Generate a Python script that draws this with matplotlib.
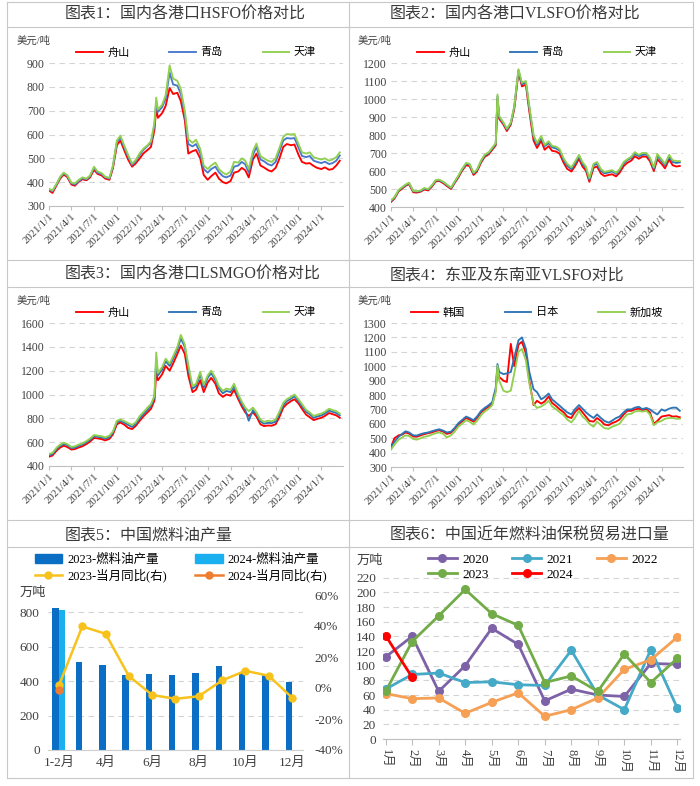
import matplotlib
matplotlib.use('Agg')
import matplotlib.pyplot as plt
import matplotlib.dates as mdates
from matplotlib.lines import Line2D
from matplotlib.patches import Patch
from matplotlib.ticker import FuncFormatter, MultipleLocator
import numpy as np
import pandas as pd

FAM = ['Liberation Serif', 'Noto Sans CJK SC']
plt.rcParams['font.family'] = FAM
plt.rcParams['axes.unicode_minus'] = False

# ---------------- data ----------------
dates = pd.date_range('2021-01-01', '2024-03-15', freq='SMS')
dates = dates.append(pd.DatetimeIndex(['2022-03-08'])).sort_values()

port_labels = ['舟山', '青岛', '天津']
asia_labels = ['韩国', '日本', '新加坡']

hsfo_zhoushan = [365, 355, 388, 415, 432, 422, 390, 385, 402, 412, 408, 420, 452, 435, 428, 415, 410, 458, 555, 575, 530, 495, 465, 478,
                 500, 520, 535, 548, 620, 710, 670, 690, 720, 795, 770, 775, 740, 660, 520, 530, 535, 500, 430, 410, 425, 440, 415, 400, 395,
                 405, 440, 445, 460, 450, 420, 495, 520, 470, 462, 450, 445, 460, 495, 548, 560, 555, 558, 515, 485, 478, 480, 468, 460,
                 455, 462, 452, 455, 470, 490]
hsfo_qingdao = [370, 362, 392, 420, 437, 427, 395, 390, 405, 416, 412, 425, 460, 440, 434, 420, 415, 465, 568, 588, 542, 508, 472, 487,
                515, 535, 552, 565, 640, 740, 695, 715, 750, 860, 810, 805, 770, 685, 560, 550, 560, 522, 455, 440, 455, 465, 442, 425, 420,
                428, 465, 470, 485, 475, 440, 515, 548, 495, 488, 475, 470, 485, 525, 575, 585, 583, 585, 545, 510, 505, 510, 490, 485,
                480, 486, 476, 480, 490, 512]
hsfo_tianjin = [372, 365, 395, 423, 440, 430, 398, 395, 410, 420, 415, 428, 465, 445, 438, 423, 418, 470, 575, 595, 550, 515, 478, 492,
                522, 540, 555, 572, 650, 755, 705, 725, 765, 890, 835, 825, 790, 700, 580, 565, 578, 540, 470, 455, 470, 482, 455, 440, 432,
                445, 485, 482, 500, 490, 455, 530, 562, 510, 500, 490, 485, 500, 540, 590, 602, 600, 602, 560, 525, 520, 525, 505, 500,
                495, 500, 490, 495, 505, 525]

vlsfo_zhoushan = [428, 447, 487, 502, 518, 527, 482, 480, 485, 497, 492, 512, 542, 545, 532, 517, 500, 532, 565, 600, 632, 628, 578, 597,
                  648, 678, 693, 718, 743, 1000, 890, 858, 822, 858, 945, 1150, 1070, 1080, 930, 770, 728, 768, 718, 738, 712, 708, 695, 645, 612,
                  597, 625, 668, 625, 602, 540, 618, 625, 585, 572, 578, 582, 570, 590, 628, 645, 658, 682, 668, 680, 680, 655, 600, 665,
                  640, 615, 665, 632, 625, 628]
vlsfo_qingdao = [434, 452, 492, 507, 522, 532, 488, 485, 489, 502, 497, 517, 547, 549, 537, 522, 505, 537, 571, 606, 640, 636, 586, 604,
                 655, 685, 700, 725, 750, 1015, 898, 865, 830, 865, 955, 1160, 1082, 1092, 950, 790, 745, 785, 738, 755, 732, 725, 712, 660, 630,
                 610, 640, 680, 640, 615, 552, 632, 640, 600, 587, 592, 598, 584, 604, 643, 660, 673, 695, 682, 690, 692, 668, 612, 685,
                 655, 632, 680, 650, 645, 648]
vlsfo_tianjin = [437, 455, 495, 510, 525, 535, 490, 488, 492, 505, 500, 520, 550, 552, 540, 525, 508, 540, 575, 610, 645, 640, 590, 608,
                 660, 690, 705, 730, 755, 1025, 905, 870, 835, 870, 960, 1165, 1090, 1100, 960, 800, 755, 795, 745, 765, 740, 735, 720, 670, 640,
                 620, 650, 690, 650, 625, 560, 640, 650, 610, 595, 600, 605, 590, 610, 650, 665, 680, 705, 690, 700, 700, 675, 620, 695,
                 665, 640, 690, 660, 655, 655]

lsmgo_zhoushan = [478, 488, 530, 555, 570, 560, 538, 542, 556, 565, 585, 605, 635, 632, 625, 615, 628, 665, 750, 765, 745, 720, 710, 735,
                  780, 815, 850, 880, 950, 1180, 1120, 1170, 1240, 1200, 1260, 1340, 1410, 1340, 1160, 1020, 1040, 1120, 1020, 1100, 1140, 1090, 1010, 980, 1000,
                  990, 1040, 960, 900, 850, 820, 850, 815, 750, 735, 740, 738, 750, 805, 890, 920, 945, 960, 925, 880, 830, 810, 785, 795,
                  805, 820, 845, 835, 825, 805]
lsmgo_qingdao = [490, 500, 545, 570, 585, 575, 550, 555, 570, 580, 600, 620, 650, 645, 640, 630, 643, 680, 768, 780, 762, 745, 728, 752,
                 800, 835, 872, 905, 975, 1300, 1160, 1210, 1280, 1240, 1300, 1380, 1470, 1400, 1220, 1050, 1070, 1170, 1060, 1140, 1180, 1120, 1050, 1010, 1030,
                 1020, 1070, 980, 920, 870, 780, 870, 835, 775, 755, 762, 760, 772, 832, 912, 945, 965, 985, 945, 902, 855, 835, 805, 815,
                 825, 840, 865, 855, 845, 825]
lsmgo_tianjin = [500, 510, 555, 580, 595, 585, 560, 565, 580, 590, 610, 630, 660, 655, 650, 640, 655, 690, 780, 790, 775, 760, 745, 765,
                 820, 850, 890, 920, 990, 1352, 1180, 1230, 1300, 1260, 1320, 1400, 1500, 1420, 1250, 1070, 1090, 1190, 1080, 1160, 1200, 1140, 1070, 1030, 1050,
                 1040, 1090, 1000, 940, 890, 860, 890, 850, 790, 770, 780, 775, 790, 850, 930, 960, 980, 1000, 960, 920, 870, 850, 820, 830,
                 840, 855, 880, 870, 860, 840]

asia_korea = [440, 500, 520, 525, 540, 532, 512, 510, 520, 528, 535, 540, 550, 555, 545, 530, 538, 562, 595, 615, 640, 630, 615, 640,
              680, 700, 720, 742, 835, 990, 925, 900, 890, 1155, 1000, 1150, 1170, 1090, 900, 730, 760, 740, 755, 790, 745, 722, 700, 680, 650,
              640, 680, 710, 680, 650, 620, 615, 640, 620, 595, 590, 605, 615, 630, 665, 690, 690, 700, 705, 695, 700, 680, 600, 620,
              650, 655, 660, 650, 652, 645]
asia_japan = [440, 475, 510, 530, 548, 540, 520, 518, 528, 535, 540, 548, 556, 562, 552, 540, 545, 570, 605, 625, 650, 640, 625, 650,
              690, 710, 730, 750, 850, 1015, 960, 945, 950, 960, 1060, 1180, 1200, 1120, 960, 840, 820, 770, 785, 810, 770, 745, 725, 700, 680,
              665, 700, 730, 705, 680, 660, 640, 665, 640, 620, 608, 622, 640, 650, 680, 700, 700, 712, 718, 702, 710, 700, 680, 665,
              700, 690, 705, 712, 712, 690]
asia_singapore = [420, 455, 490, 505, 520, 515, 495, 490, 500, 510, 515, 525, 535, 540, 530, 505, 520, 545, 580, 600, 625, 615, 595, 620,
                  660, 685, 705, 730, 820, 1005, 900, 830, 820, 830, 950, 1100, 1120, 1040, 880, 740, 710, 720, 735, 760, 720, 700, 680, 660, 630,
                  610, 640, 690, 650, 630, 600, 580, 615, 590, 570, 565, 580, 590, 600, 640, 665, 670, 685, 690, 685, 690, 665, 590, 610,
                  620, 635, 640, 640, 635, 635]

p5_cats = ['1-2月', '3月', '4月', '5月', '6月', '7月', '8月', '9月', '10月', '11月', '12月']
prod_2023 = [823, 513, 494, 433, 442, 437, 450, 485, 452, 433, 394]
prod_2024 = [813]
yoy_2023 = [1.7, 39.7, 35.0, 7.7, -4.5, -7.0, -5.3, 4.9, 11.1, 7.9, -6.2]
yoy_2024 = [-1.5]
p5_labels = ['2023-燃料油产量', '2024-燃料油产量', '2023-当月同比(右)', '2024-当月同比(右)']

p6_months = ['1月', '2月', '3月', '4月', '5月', '6月', '7月', '8月', '9月', '10月', '11月', '12月']
imp_2020 = [112, 140, 65, 100, 151, 129, 52, 68, 60, 58, 103, 102]
imp_2021 = [68, 88, 90, 77, 78, 74, 73, 121, 60, 40, 122, 42]
imp_2022 = [62, 55, 56, 35, 50, 63, 31, 40, 56, 95, 108, 139]
imp_2023 = [65, 133, 168, 204, 171, 155, 77, 86, 65, 116, 77, 110]
imp_2024 = [141, 84]
imp_labels = ['2020', '2021', '2022', '2023', '2024']

# ---------------- figure ----------------
W, H = 700, 786
fig = plt.figure(figsize=(W / 100, H / 100), dpi=100, facecolor='white')


def rect(x0, y0, x1, y1):
    return [x0 / W, 1 - y1 / H, (x1 - x0) / W, (y1 - y0) / H]


def fx(x):
    return x / W


def fy(y):
    return 1 - y / H


TXT = '#404040'
GRID = '#d4d4d4'
SPINE = '#bfbfbf'

# panel frames
for y in [2, 27, 260, 287, 520, 547, 778]:
    fig.add_artist(Line2D([fx(7), fx(693)], [fy(y), fy(y)], color='#c8c8c8', lw=0.8))
for x in [7, 349, 693]:
    fig.add_artist(Line2D([fx(x), fx(x)], [fy(2), fy(778)], color='#c8c8c8', lw=0.8))

titles = [
    (65, 15, '图表1：国内各港口HSFO价格对比'),
    (390, 15, '图表2：国内各港口VLSFO价格对比'),
    (65, 275, '图表3：国内各港口LSMGO价格对比'),
    (390, 276, '图表4：东亚及东南亚VLSFO对比'),
    (65, 535, '图表5：中国燃料油产量'),
    (390, 535, '图表6：中国近年燃料油保税贸易进口量'),
]
for x, y, t in titles:
    fig.text(fx(x), fy(y), t, fontsize=11.5, color='#3a3a3a', ha='left', va='center')


def date_fmt(v, p):
    d = mdates.num2date(v)
    return f"{d.year}/{d.month}/{d.day}"


def price_panel(r, series, colors, labels, ylim, ystep, unit_xy):
    ax = fig.add_axes(r)
    for s, c, l in zip(series, colors, labels):
        ax.plot(dates, s, color=c, lw=1.35, label=l)
    ax.set_ylim(*ylim)
    ax.set_xlim(pd.Timestamp('2021-01-01'), pd.Timestamp('2024-03-28'))
    ax.yaxis.set_major_locator(MultipleLocator(ystep))
    ax.grid(axis='y', color=GRID, lw=0.8, ls=(0, (5, 4)))
    ax.set_axisbelow(True)
    for sp in ['top', 'right', 'left']:
        ax.spines[sp].set_visible(False)
    ax.spines['bottom'].set_color(SPINE)
    ax.xaxis.set_major_locator(mdates.MonthLocator(bymonth=[1, 4, 7, 10]))
    ax.xaxis.set_major_formatter(FuncFormatter(date_fmt))
    ax.tick_params(axis='y', length=0, labelsize=8.5, labelcolor=TXT, pad=3)
    ax.tick_params(axis='x', length=3, color=SPINE, labelsize=7.8, labelcolor=TXT, pad=1)
    for lbl in ax.get_xticklabels():
        lbl.set_rotation(45)
        lbl.set_ha('right')
        lbl.set_rotation_mode('anchor')
    ax.legend(loc='lower center', bbox_to_anchor=(0.5, 1.0), ncol=3, frameon=False,
              fontsize=8, handlelength=2.4, columnspacing=3.6, borderaxespad=0.1,
              handletextpad=0.4)
    fig.text(fx(unit_xy[0]), fy(unit_xy[1]), '美元/吨', fontsize=7.5, color=TXT,
             ha='left', va='center')
    return ax


port_colors = ['#ff0000', '#4a78d0', '#92d050']
price_panel(rect(49, 63, 343, 206), [hsfo_zhoushan, hsfo_qingdao, hsfo_tianjin],
            port_colors, port_labels, (300, 900), 100, (17, 41))
price_panel(rect(391, 63, 683, 207), [vlsfo_zhoushan, vlsfo_qingdao, vlsfo_tianjin],
            ['#ff0000', '#2e75b6', '#92d050'], port_labels, (400, 1200), 100, (358, 41))
price_panel(rect(49, 323, 343, 466), [lsmgo_zhoushan, lsmgo_qingdao, lsmgo_tianjin],
            ['#ff0000', '#2e75b6', '#92d050'], port_labels, (400, 1600), 200, (17, 301))
price_panel(rect(391, 323, 683, 467), [asia_korea, asia_japan, asia_singapore],
            ['#ff0000', '#2e75b6', '#92d050'], asia_labels, (300, 1300), 100, (358, 301))

# ---------------- panel 5 ----------------
ax5 = fig.add_axes(rect(48, 595, 303, 750))
x5 = np.arange(len(p5_cats))
bw = 0.28
c23, c24 = '#0b6ec5', '#1ab0ef'
ax5.bar(x5, prod_2023, width=-bw, align='edge', color=c23, zorder=2)
ax5.bar(x5[:len(prod_2024)], prod_2024, width=bw, align='edge', color=c24, zorder=2)
ax5.set_ylim(0, 900)
ax5.set_yticks([0, 200, 400, 600, 800])
ax5.set_xlim(-0.47, 10.47)
ax5.set_xticks(x5[::2])
ax5.set_xticklabels(p5_cats[::2])
ax5.grid(axis='y', color=GRID, lw=0.8, ls=(0, (5, 4)))
ax5.set_axisbelow(True)
for sp in ['top', 'right', 'left']:
    ax5.spines[sp].set_visible(False)
ax5.spines['bottom'].set_color('#d0d0d0')
ax5.tick_params(axis='y', length=0, labelsize=9.5, labelcolor=TXT, pad=6)
ax5.tick_params(axis='x', length=0, labelsize=9.5, labelcolor=TXT, pad=5)
ax5r = ax5.twinx()
cy, co = '#f7c21c', '#ed7d31'
ax5r.plot(x5, yoy_2023, color=cy, marker='o', ms=5, lw=1.8, zorder=3)
ax5r.plot(x5[:len(yoy_2024)], yoy_2024, color=co, marker='o', ms=5, lw=1.8, zorder=4)
ax5r.set_ylim(-40, 60)
ax5r.set_yticks([-40, -20, 0, 20, 40, 60])
ax5r.yaxis.set_major_formatter(FuncFormatter(lambda v, p: f"{int(round(v))}%"))
for sp in ['top', 'right', 'left', 'bottom']:
    ax5r.spines[sp].set_visible(False)
ax5r.tick_params(axis='y', length=0, labelsize=9.5, labelcolor=TXT, pad=8)
fig.text(fx(20), fy(593), '万吨', fontsize=9.5, color=TXT, ha='left', va='center')
h5 = [Patch(color=c23), Line2D([], [], color=cy, marker='o', ms=5, lw=1.8),
      Patch(color=c24), Line2D([], [], color=co, marker='o', ms=5, lw=1.8)]
l5 = [p5_labels[0], p5_labels[2], p5_labels[1], p5_labels[3]]
fig.legend(h5, l5, loc='upper left', bbox_to_anchor=(fx(32), fy(551)), ncol=2,
           frameon=False, fontsize=9, handlelength=2.2, handletextpad=0.4,
           columnspacing=2.3, labelspacing=0.25, borderpad=0.2, borderaxespad=0)

# ---------------- panel 6 ----------------
ax6 = fig.add_axes(rect(383, 577, 680, 739))
m6 = np.arange(1, 13)
cols6 = ['#7e62a8', '#45a9c8', '#f5a055', '#72ac48', '#ff0000']
series6 = [imp_2020, imp_2021, imp_2022, imp_2023, imp_2024]
handles6 = []
for i, (s, c) in enumerate(zip(series6, cols6)):
    h, = ax6.plot(m6[:len(s)], s, color=c, marker='o', ms=5.5, lw=2, zorder=2 + i)
    handles6.append(h)
ax6.set_ylim(0, 221)
ax6.set_xlim(0.9, 12.1)
ax6.yaxis.set_major_locator(MultipleLocator(20))
ax6.set_xticks(m6)
ax6.set_xticklabels(p6_months, rotation=-90)
ax6.grid(axis='y', color=GRID, lw=0.8, ls=(0, (5, 4)))
ax6.set_axisbelow(True)
for sp in ['top', 'right', 'left']:
    ax6.spines[sp].set_visible(False)
ax6.spines['bottom'].set_color(SPINE)
ax6.tick_params(axis='y', length=0, labelsize=9.5, labelcolor=TXT, pad=5)
ax6.tick_params(axis='x', length=4, color=SPINE, labelsize=9, labelcolor=TXT, pad=3)
fig.text(fx(357), fy(561), '万吨', fontsize=9.5, color=TXT, ha='left', va='center')
order = [0, 3, 1, 4, 2]
fig.legend([handles6[i] for i in order], [imp_labels[i] for i in order],
           loc='upper left', bbox_to_anchor=(fx(425), fy(551)), ncol=3, frameon=False,
           fontsize=9.5, handlelength=2.2, handletextpad=0.4, columnspacing=1.8,
           labelspacing=0.2, borderpad=0.2, borderaxespad=0)

fig.savefig('out.png', dpi=100, facecolor='white')
